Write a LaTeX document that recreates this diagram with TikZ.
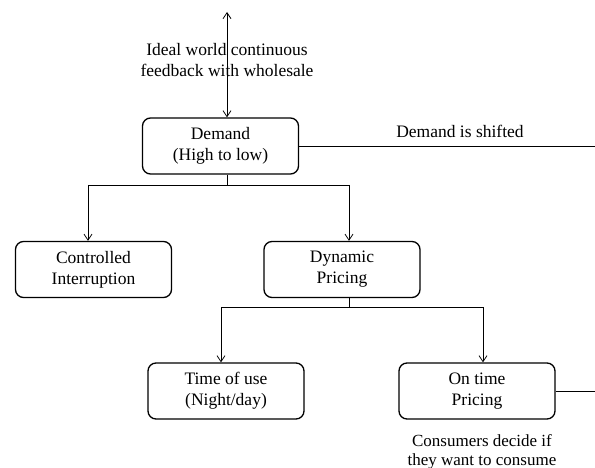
\documentclass[tikz,border=0pt]{standalone}
\usepackage{fontspec}
\setmainfont{Liberation Serif}
\usetikzlibrary{arrows.meta}
\begin{document}
\begin{tikzpicture}[x=1pt,y=-1pt,
  box/.style={draw,line width=1.3pt,rounded corners=8pt,minimum width=156pt,minimum height=56pt,align=center,inner sep=2pt,font=\fontsize{17.5}{21}\selectfont},
  lbl/.style={align=center,inner sep=0pt,font=\fontsize{17.5}{21}\selectfont},
  conn/.style={line width=0.8pt},
  arr/.style={conn,-{Straight Barb[length=6pt,width=8pt]}}]
\useasboundingbox (0,0) rectangle (595,468);
\node[box] (demand) at (220.5,146) {Demand\\(High to low)};
\node[box] (ctrl) at (93.5,269.5) {Controlled\\Interruption};
\node[box] (dyn) at (342,269.5) {Dynamic\\Pricing};
\node[box] (tou) at (226,391) {Time of use\\(Night/day)};
\node[box] (otp) at (477,391) {On time\\Pricing};
\coordinate (top) at (227,12);
\coordinate (right) at (595,0);
\coordinate (b1) at (227,185);
\coordinate (cL) at (88,185);
\coordinate (cR) at (349,185);
\coordinate (d1) at (349,307);
\coordinate (dL) at (221,307);
\coordinate (dR) at (483,307);
\node[lbl] (ideal) at (227,60) {Ideal world continuous\\feedback with wholesale};
\node[lbl] (shift) at (460,131) {Demand is shifted};
\node[lbl,font=\fontsize{17}{19}\selectfont] (cons) at (482,452) {Consumers decide if\\they want to consume};
\draw[conn,{Straight Barb[length=6pt,width=8pt]}-{Straight Barb[length=6pt,width=8pt]}] (top) -- (top |- demand.north);
\draw[conn] (top |- demand.south) -- (b1);
\draw[conn] (cL) -- (cR);
\draw[arr] (cL) -- (cL |- ctrl.north);
\draw[arr] (cR) -- (cR |- dyn.north);
\draw[conn] (demand.east) -- (demand.east -| right);
\draw[conn] (cR |- dyn.south) -- (d1);
\draw[conn] (dL) -- (dR);
\draw[arr] (dL) -- (dL |- tou.north);
\draw[arr] (dR) -- (dR |- otp.north);
\draw[conn] (otp.east) -- (otp.east -| right);
\end{tikzpicture}
\end{document}
